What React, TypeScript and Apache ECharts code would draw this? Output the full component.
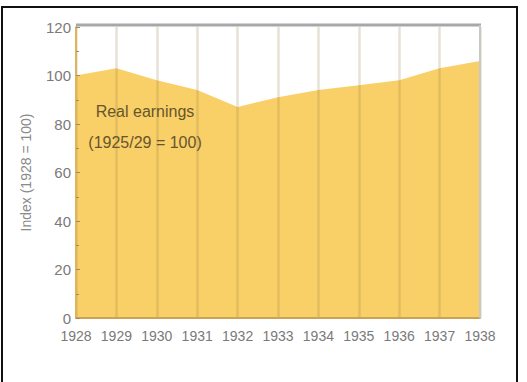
import React, { useEffect, useRef } from "react";
import * as echarts from "echarts";

const years = ["1928", "1929", "1930", "1931", "1932", "1933", "1934", "1935", "1936", "1937", "1938"];
const realEarnings = [100, 103, 98, 94, 87, 91, 94, 96, 98, 103, 106];
const yTicks = { min: 0, max: 120, interval: 20 };
const yTitle = "Index (1928 = 100)";
const noteText = "Real earnings\n(1925/29 = 100)";

const FONT = "'Liberation Sans', Arial, sans-serif";

export default function App() {
  const ref = useRef<HTMLDivElement>(null);
  useEffect(() => {
    document.body.style.margin = "0";
    if (!ref.current) return;
    const chart = echarts.init(ref.current, null, { renderer: "svg" });
    chart.setOption({
      animation: false,
      backgroundColor: "#ffffff",
      grid: { left: 76, right: 47, top: 27, bottom: 64, containLabel: false },
      xAxis: {
        type: "category",
        data: years,
        boundaryGap: false,
        z: 5,
        axisLine: { show: true, lineStyle: { color: "#c9a356", width: 2 } },
        axisTick: { show: false },
        axisLabel: {
          color: "#7a7a7a",
          fontFamily: FONT,
          fontSize: 14,
          margin: 11,
          interval: 0,
        },
        splitLine: { show: true, lineStyle: { color: "rgba(150,125,70,0.22)", width: 2.5 } },
      },
      yAxis: {
        type: "value",
        min: yTicks.min,
        max: yTicks.max,
        interval: yTicks.interval,
        z: 5,
        name: yTitle,
        nameLocation: "middle",
        nameGap: 43,
        nameRotate: 90,
        nameTextStyle: { color: "#8a8a8a", fontFamily: FONT, fontSize: 14 },
        axisLine: { show: true, lineStyle: { color: "#dcb55c", width: 2 } },
        axisTick: { show: true, inside: true, length: 4, lineStyle: { color: "#a08a60" } },
        minorTick: { show: true, splitNumber: 2, length: 3, lineStyle: { color: "#a08a60" } },
        axisLabel: { color: "#7a7a7a", fontFamily: FONT, fontSize: 15, margin: 5 },
        splitLine: { show: false },
      },
      graphic: [
        {
          type: "rect",
          shape: { x: 2, y: 7, width: 515, height: 385 },
          style: { fill: "none", stroke: "#111", lineWidth: 2 },
          z: 100,
        },
        {
          type: "line",
          shape: { x1: 76, y1: 25, x2: 481, y2: 25 },
          style: { stroke: "#a8a8a8", lineWidth: 3 },
          z: 100,
        },
        {
          type: "line",
          shape: { x1: 480, y1: 25, x2: 480, y2: 318 },
          style: { stroke: "#c8c8c8", lineWidth: 2 },
          z: 100,
        },
        {
          type: "text",
          x: 145,
          y: 127,
          style: {
            text: noteText,
            fill: "#66562c",
            font: `16px ${FONT}`,
            align: "center",
            verticalAlign: "middle",
            lineHeight: 31,
          },
          z: 100,
        },
      ],
      series: [
        {
          type: "line",
          data: realEarnings,
          symbol: "none",
          lineStyle: { width: 0 },
          areaStyle: { color: "#f9cf68", opacity: 1 },
          z: 1,
        },
      ],
    });
    return () => chart.dispose();
  }, []);
  return <div ref={ref} style={{ width: 527, height: 382 }} />;
}
